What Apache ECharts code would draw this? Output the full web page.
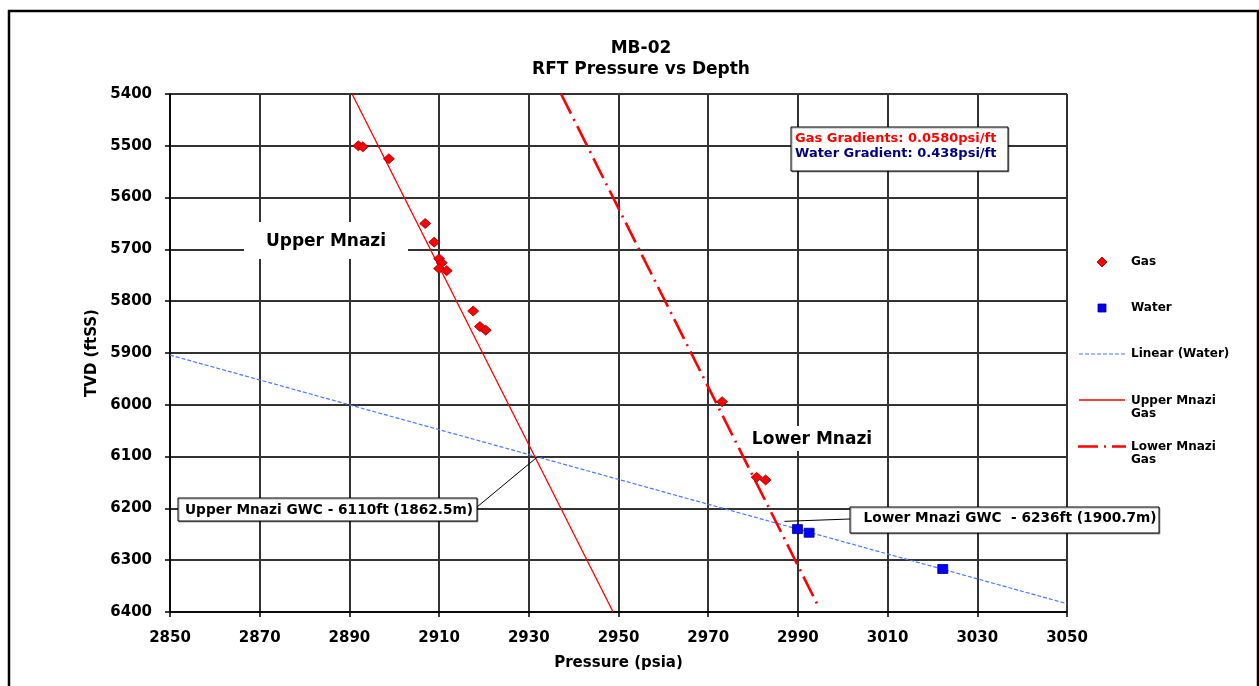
<!DOCTYPE html>
<html>
<head>
<meta charset="utf-8">
<script src="https://cdn.jsdelivr.net/npm/echarts@6/dist/echarts.min.js"></script>
<style>
  html, body { margin: 0; padding: 0; background: #fff; }
  #chart { width: 1259px; height: 686px; }
</style>
</head>
<body>
<div id="chart"></div>
<script>
// RFT pressure readings (psia) against true vertical depth (ftSS)
const gasPressure = [2892.0, 2893.0, 2898.8, 2906.9, 2908.9, 2910.0, 2910.6, 2910.0, 2911.7, 2917.6, 2919.1, 2920.4, 2973.1, 2980.8, 2982.8];
const gasDepth    = [5500, 5502, 5525, 5650, 5686, 5718, 5726, 5737, 5741, 5819, 5849, 5856, 5994, 6140, 6145];

const waterPressure = [2989.9, 2992.5, 3022.3];
const waterDepth    = [6240, 6247, 6317];

// Gradient lines (end points)
const waterTrendPressure = [2850, 3050];
const waterTrendDepth    = [5904, 6384];
const upperGasPressure   = [2890.6, 2948.8];
const upperGasDepth      = [5400, 6400];
const lowerGasPressure   = [2937.2, 2994.5];
const lowerGasDepth      = [5400, 6388];

// Gas/water contacts pointed at by the callouts
const upperGwc = [2932, 6100];
const lowerGwc = [2987, 6225];

const xTicks = { min: 2850, max: 3050, step: 20 };
const yTicks = { min: 5400, max: 6400, step: 100 };

const titleText = ['MB-02', 'RFT Pressure vs Depth'];
const gradientText = ['Gas Gradients: 0.0580psi/ft', 'Water Gradient: 0.438psi/ft'];
const upperGwcText = 'Upper Mnazi GWC - 6110ft (1862.5m)';
const lowerGwcText = 'Lower Mnazi GWC  - 6236ft (1900.7m)';

const FONT = '"DejaVu Sans", "Liberation Sans", Arial, sans-serif';
const pairs = (xs, ys) => xs.map((x, i) => [x, ys[i]]);
const plainNumber = v => String(v);

const chart = echarts.init(document.getElementById('chart'), null, { renderer: 'canvas' });

const option = {
  animation: false,
  backgroundColor: '#ffffff',
  textStyle: { fontFamily: FONT },
  title: {
    text: titleText.join('\n'),
    left: 636, top: 33, textAlign: 'center',
    textStyle: { fontFamily: FONT, fontSize: 17, fontWeight: 'bold', color: '#000', lineHeight: 21 }
  },
  grid: { left: 170, top: 94, right: 192, bottom: 74, containLabel: false },
  xAxis: {
    type: 'value', min: xTicks.min, max: xTicks.max, interval: xTicks.step,
    name: 'Pressure (psia)', nameLocation: 'middle', nameGap: 44,
    nameTextStyle: { fontFamily: FONT, fontSize: 15, fontWeight: 'bold', color: '#000' },
    axisLine: { show: true, lineStyle: { color: '#000', width: 1.5 } },
    axisTick: { show: true, length: 5, inside: false, lineStyle: { color: '#000', width: 1.5 } },
    axisLabel: { margin: 19, fontFamily: FONT, fontSize: 15, fontWeight: 'bold', color: '#000', formatter: plainNumber },
    splitLine: { show: true, lineStyle: { color: '#333', width: 2 } }
  },
  yAxis: {
    type: 'value', inverse: true, min: yTicks.min, max: yTicks.max, interval: yTicks.step,
    name: 'TVD (ftSS)', nameLocation: 'middle', nameGap: 64, nameRotate: 90,
    nameTextStyle: { fontFamily: FONT, fontSize: 15, fontWeight: 'bold', color: '#000' },
    axisLine: { show: true, lineStyle: { color: '#000', width: 1.5 } },
    axisTick: { show: true, length: 5, inside: false, lineStyle: { color: '#000', width: 1.5 } },
    axisLabel: { margin: 18, fontFamily: FONT, fontSize: 15, fontWeight: 'bold', color: '#000', formatter: plainNumber },
    splitLine: { show: true, lineStyle: { color: '#333', width: 2 } }
  },
  series: [
    {
      name: 'Linear (Water)', type: 'line', data: pairs(waterTrendPressure, waterTrendDepth),
      symbol: 'none', z: 3,
      lineStyle: { color: '#4a7bff', width: 1.2, type: [4, 2] }
    },
    {
      name: 'Upper Mnazi Gas', type: 'line', data: pairs(upperGasPressure, upperGasDepth),
      symbol: 'none', z: 3,
      lineStyle: { color: '#ff0000', width: 1.3 }
    },
    {
      name: 'Lower Mnazi Gas', type: 'line', data: pairs(lowerGasPressure, lowerGasDepth),
      symbol: 'none', z: 3,
      lineStyle: { color: '#ff0000', width: 2.6, type: [22, 6, 2, 6] }
    },
    {
      name: 'Gas', type: 'scatter', data: pairs(gasPressure, gasDepth),
      symbol: 'diamond', symbolSize: [11, 10], z: 5,
      itemStyle: { color: '#ff0000', borderColor: '#8b0000', borderWidth: 0.8, opacity: 1 }
    },
    {
      name: 'Water', type: 'scatter', data: pairs(waterPressure, waterDepth),
      symbol: 'rect', symbolSize: [10, 9], z: 5,
      itemStyle: { color: '#0000ff', borderColor: '#000080', borderWidth: 0.8, opacity: 1 }
    }
  ]
};
chart.setOption(option);

// Annotations, legend and frame
const up = chart.convertToPixel({ gridIndex: 0 }, upperGwc);
const lo = chart.convertToPixel({ gridIndex: 0 }, lowerGwc);

const txt = (x, y, text, size, color, align) => ({
  type: 'text', x, y, z: 20,
  style: { text, fontFamily: FONT, fontSize: size, fontWeight: 'bold', fill: color || '#000',
           align: align || 'left', verticalAlign: 'middle' }
});
const box = (x, y, w, h, z) => ({
  type: 'rect', z: z || 18,
  shape: { x, y, width: w, height: h },
  style: { fill: '#fff', stroke: '#000', lineWidth: 1, shadowColor: 'rgba(0,0,0,0.35)', shadowOffsetX: 1, shadowOffsetY: 1 }
});
const plain = (x, y, w, h) => ({
  type: 'rect', z: 2, shape: { x, y, width: w, height: h }, style: { fill: '#fff' }
});
const seg = (x1, y1, x2, y2, style) => ({
  type: 'line', z: 20, shape: { x1, y1, x2, y2 }, style: Object.assign({ stroke: '#000', lineWidth: 1 }, style)
});

const graphic = [
  // outer frame
  { type: 'rect', z: 30, shape: { x: 9, y: 11, width: 1249, height: 700 },
    style: { fill: null, stroke: '#000', lineWidth: 2.5 } },

  // zone labels
  plain(244, 222, 164, 37),
  txt(326, 242, 'Upper Mnazi', 17, '#000', 'center'),
  plain(748, 426, 128, 25),
  txt(812, 440, 'Lower Mnazi', 17, '#000', 'center'),

  // gradient box
  box(791, 127, 217, 44),
  txt(795, 138.5, gradientText[0], 13, '#ff0000'),
  txt(795, 154, gradientText[1], 13, '#000080'),

  // GWC callouts
  seg(477, 507, up[0], up[1]),
  box(178, 498, 299, 23),
  txt(329, 510, upperGwcText, 13.7, '#000', 'center'),
  seg(850, 519, lo[0], lo[1]),
  box(850, 507, 309, 26),
  txt(1010, 518, lowerGwcText, 13.7, '#000', 'center'),

  // legend
  { type: 'polygon', z: 20, shape: { points: [[1102, 257], [1107, 262], [1102, 267], [1097, 262]] },
    style: { fill: '#ff0000', stroke: '#8b0000', lineWidth: 0.8 } },
  txt(1131, 262, 'Gas', 12),
  { type: 'rect', z: 20, shape: { x: 1098, y: 304, width: 8, height: 8 },
    style: { fill: '#0000ff', stroke: '#000080', lineWidth: 0.8 } },
  txt(1131, 308, 'Water', 12),
  seg(1079, 354, 1125, 354, { stroke: '#4a7bff', lineWidth: 1.2, lineDash: [4, 2] }),
  txt(1131, 354, 'Linear (Water)', 12),
  seg(1079, 400, 1125, 400, { stroke: '#ff0000', lineWidth: 1.3 }),
  txt(1131, 401, 'Upper Mnazi', 12),
  txt(1131, 414, 'Gas', 12),
  seg(1078, 446.5, 1126, 446.5, { stroke: '#ff0000', lineWidth: 2.6, lineDash: [20, 6, 2, 6] }),
  txt(1131, 447, 'Lower Mnazi', 12),
  txt(1131, 460, 'Gas', 12)
];

chart.setOption({ graphic });
</script>
</body>
</html>
